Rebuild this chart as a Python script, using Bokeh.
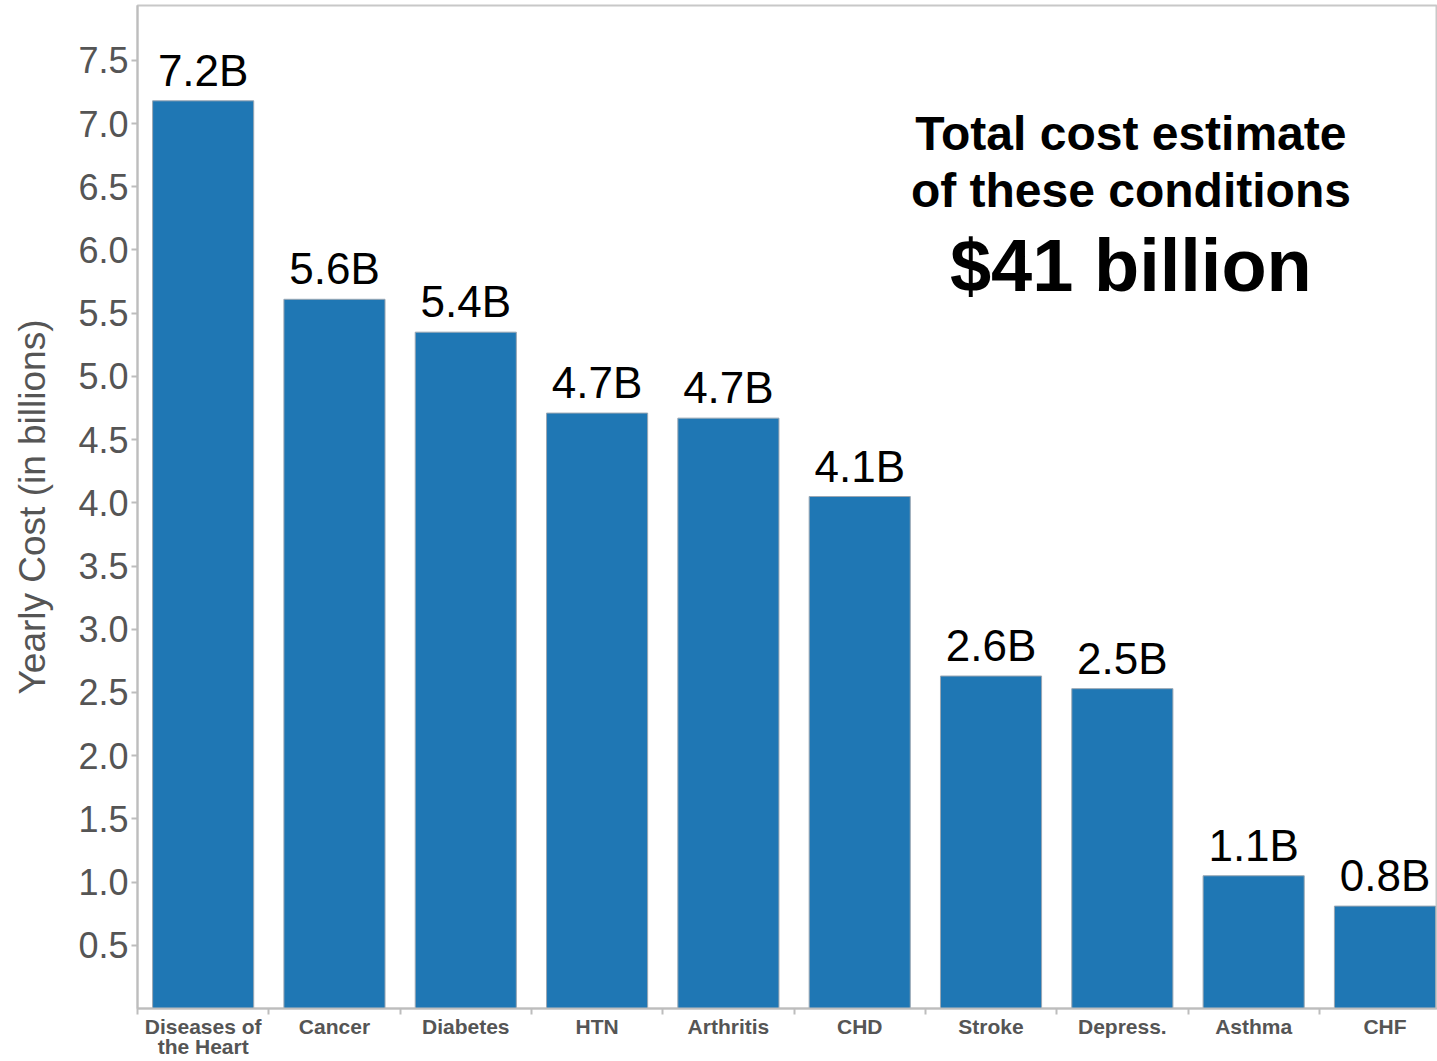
from bokeh.plotting import figure
from bokeh.models import ColumnDataSource, FixedTicker, Range1d, NumeralTickFormatter
from bokeh.core.properties import value
from bokeh.embed import file_html
from bokeh.resources import INLINE

categories = ["Diseases of\nthe Heart", "Cancer", "Diabetes", "HTN", "Arthritis",
              "CHD", "Stroke", "Depress.", "Asthma", "CHF"]
costs = [7.18, 5.61, 5.35, 4.71, 4.67, 4.05, 2.63, 2.53, 1.05, 0.81]
cost_labels = ["7.2B", "5.6B", "5.4B", "4.7B", "4.7B", "4.1B", "2.6B", "2.5B", "1.1B", "0.8B"]
y_ticks = [0.5, 1.0, 1.5, 2.0, 2.5, 3.0, 3.5, 4.0, 4.5, 5.0, 5.5, 6.0, 6.5, 7.0, 7.5]
annotation_lines = ["Total cost estimate", "of these conditions", "$41 billion"]

FONT = "Liberation Sans"
BLUE = "#1f77b4"
GRAY = "#555555"
AXIS = "#bdbdbd"

n = len(categories)
centers = [i + 0.5 for i in range(n)]
source = ColumnDataSource(dict(x=centers, top=costs, label=cost_labels))

p = figure(width=1437, height=1061, output_backend="svg", toolbar_location=None,
           x_range=Range1d(0, n - 0.1), y_range=Range1d(0, 7.934),
           min_border_left=137, min_border_right=0, min_border_top=5, min_border_bottom=51)
p.background_fill_color = "white"
p.border_fill_color = "white"
p.outline_line_color = "#c8c8c8"
p.outline_line_width = 2
p.xgrid.visible = False
p.ygrid.visible = False

p.vbar(x="x", top="top", width=0.77, bottom=0, source=source,
       fill_color=BLUE, line_color="#9aa7b3", line_width=1)

p.text(x="x", y="top", text="label", source=source, text_align="center",
       text_baseline="bottom", y_offset=-6, text_font=value(FONT),
       text_font_size="44px", text_color="black")

# x axis
xa = p.xaxis[0]
xa.ticker = FixedTicker(ticks=centers, minor_ticks=list(range(n + 1)))
xa.major_label_overrides = {c: lab for c, lab in zip(centers, categories)}
xa.major_tick_line_color = None
xa.major_tick_out = 0
xa.major_tick_in = 0
xa.minor_tick_line_color = AXIS
xa.minor_tick_line_width = 2
xa.minor_tick_out = 6
xa.minor_tick_in = 0
xa.axis_line_color = AXIS
xa.axis_line_width = 2
xa.major_label_text_font = FONT
xa.major_label_text_font_style = "bold"
xa.major_label_text_font_size = "21px"
xa.major_label_text_line_height = 0.9
xa.major_label_text_color = GRAY
xa.major_label_standoff = 0

# y axis
ya = p.yaxis[0]
ya.ticker = FixedTicker(ticks=y_ticks, minor_ticks=[])
ya.formatter = NumeralTickFormatter(format="0.0")
ya.major_tick_line_color = AXIS
ya.major_tick_line_width = 2
ya.major_tick_out = 6
ya.major_tick_in = 0
ya.minor_tick_line_color = None
ya.axis_line_color = AXIS
ya.axis_line_width = 2
ya.major_label_text_font = FONT
ya.major_label_text_font_size = "36px"
ya.major_label_text_color = GRAY
ya.major_label_standoff = 3
ya.axis_label = "Yearly Cost (in billions)"
ya.axis_label_text_font = FONT
ya.axis_label_text_font_style = "normal"
ya.axis_label_text_font_size = "37px"
ya.axis_label_text_color = GRAY
ya.axis_label_standoff = 22

# annotation
p.text(x=[7.565, 7.565], y=[6.92, 6.47], text=annotation_lines[:2], text_align="center",
       text_baseline="middle", text_font=value(FONT), text_font_style="bold",
       text_font_size="48px", text_color="black")
p.text(x=[7.565], y=[5.88], text=annotation_lines[2:], text_align="center",
       text_baseline="middle", text_font=value(FONT), text_font_style="bold",
       text_font_size="74px", text_color="black")

open("out.html", "w").write(file_html(p, INLINE))
